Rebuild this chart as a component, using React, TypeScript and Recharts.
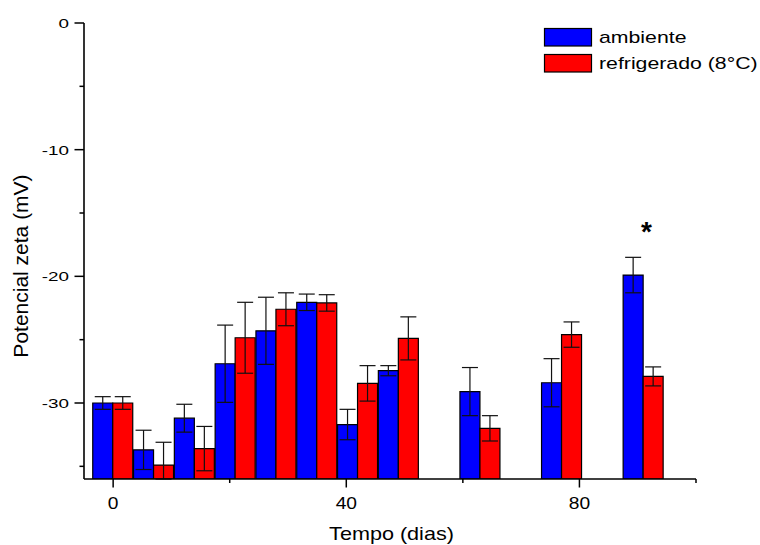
import React from 'react';
import { ComposedChart, Bar, XAxis, YAxis, ErrorBar, ReferenceDot, Legend } from 'recharts';

// ---- data ----
const days = [0, 7, 14, 21, 28, 35, 42, 49, 63, 77, 91];
const ambiente = [-30.0, -33.7, -31.2, -26.9, -24.3, -22.05, -31.7, -27.45, -29.1, -28.4, -19.9];
const ambienteErr = [0.5, 1.55, 1.1, 3.05, 2.65, 0.65, 1.2, 0.4, 1.9, 1.9, 1.4];
const refrigerado = [-30.0, -34.9, -33.6, -24.85, -22.6, -22.1, -28.45, -24.9, -32.0, -24.6, -27.9];
const refrigeradoErr = [0.5, 1.8, 1.75, 2.8, 1.3, 0.65, 1.4, 1.7, 1.0, 1.0, 0.75];
const xTicks = [0, 20, 40, 60, 80, 100];
const xLabeled = [0, 40, 80];
const yTicks = [0, -5, -10, -15, -20, -25, -30, -35];
const yLabeled = [0, -10, -20, -30];
const X_DOMAIN: [number, number] = [-5, 100];
const Y_MIN = -36;
const Y_MAX = 0;
const seriesNames = ['ambiente', 'refrigerado (8°C)'];
const starDay = 91;
const starValue = -16.2;

// error bars are clipped at the bottom of the axis, as in the original plot
const clipErr = (value: number, err: number) => [Math.min(err, value - Y_MIN), err];

const rows = days.map((d, i) => ({
  day: d,
  ambRange: [Y_MIN, ambiente[i]],
  ambErr: clipErr(ambiente[i], ambienteErr[i]),
  refrRange: [Y_MIN, refrigerado[i]],
  refrErr: clipErr(refrigerado[i], refrigeradoErr[i]),
}));

const FONT = '"Liberation Sans", Arial, Helvetica, sans-serif';
const BLUE = '#0000FF';
const RED = '#FF0000';

function sText(x: number, y: number, sx: number, anchor: string, size: number, content: any, weight = 'normal') {
  return (
    <text
      transform={`translate(${x},${y}) scale(${sx},1)`}
      textAnchor={anchor as any}
      fontSize={size}
      fontWeight={weight}
      fontFamily={FONT}
      fill="#000"
    >
      {content}
    </text>
  );
}

const renderXTick = (props: any) => {
  const x = Number(props.x);
  const y = Number(props.y);
  const v = props.payload.value;
  const major = xLabeled.includes(v);
  return (
    <g key={`xt-${v}`}>
      <line x1={x} x2={x} y1={y} y2={y + (major ? 8.5 : 4)} stroke="#000" strokeWidth={1.5} />
      {major ? sText(x, y + 29.5, 1.2, 'middle', 16, String(v)) : null}
    </g>
  );
};

const renderYTick = (props: any) => {
  const x = Number(props.x);
  const y = Number(props.y);
  const v = props.payload.value;
  const major = yLabeled.includes(v);
  return (
    <g key={`yt-${v}`}>
      <line x1={x - (major ? 9.5 : 4.5)} x2={x} y1={y} y2={y} stroke="#000" strokeWidth={1.5} />
      {major ? sText(x - 15, y + 5, 1.45, 'end', 13, String(v)) : null}
    </g>
  );
};

const renderLegend = () => (
  <svg width={216} height={50} style={{ display: 'block', overflow: 'visible' }}>
    <rect x={0.5} y={0.5} width={47} height={17.5} fill={BLUE} stroke="#000" strokeWidth={1.2} />
    {sText(55, 15.3, 1.33, 'start', 16, seriesNames[0])}
    <rect x={0.5} y={26.5} width={47} height={17.5} fill={RED} stroke="#000" strokeWidth={1.2} />
    {sText(55, 41.3, 1.33, 'start', 16, seriesNames[1])}
  </svg>
);

const renderStar = (props: any) => {
  const vb = props.viewBox || {};
  const cx = (vb.x || 0) + (vb.width || 0) / 2;
  const cy = (vb.y || 0) + (vb.height || 0) / 2;
  return sText(cx + 3, cy + 13, 1, 'middle', 28, '*', 'bold');
};

export default function App() {
  return (
    <div style={{ position: 'absolute', left: 0, top: 0, width: 760, height: 545, background: '#fff' }}>
      <ComposedChart
        width={760}
        height={545}
        data={rows}
        margin={{ top: 23, right: 64, bottom: 0, left: 0 }}
        barGap={0}
        barSize={20}
      >
        <XAxis
          dataKey="day"
          type="number"
          domain={X_DOMAIN}
          ticks={xTicks}
          interval={0}
          height={66}
          tickSize={0}
          tickMargin={0}
          tick={renderXTick}
          axisLine={{ stroke: '#000', strokeWidth: 1.6 }}
          tickLine={false}
          allowDataOverflow
        />
        <YAxis
          type="number"
          domain={[Y_MIN, Y_MAX]}
          ticks={yTicks}
          interval={0}
          width={84}
          tickSize={0}
          tickMargin={0}
          tick={renderYTick}
          axisLine={{ stroke: '#000', strokeWidth: 1.6 }}
          tickLine={false}
          allowDataOverflow
        />
        <Legend
          layout="vertical"
          align="center"
          verticalAlign="middle"
          content={renderLegend}
          wrapperStyle={{ position: 'absolute', left: 544, top: 28, width: 216, height: 50 }}
        />
        <Bar dataKey="ambRange" name={seriesNames[0]} fill={BLUE} stroke="#000" strokeWidth={1.2} isAnimationActive={false}>
          <ErrorBar dataKey="ambErr" width={8} stroke="#111" strokeWidth={1.2} direction="y" />
        </Bar>
        <Bar dataKey="refrRange" name={seriesNames[1]} fill={RED} stroke="#000" strokeWidth={1.2} isAnimationActive={false}>
          <ErrorBar dataKey="refrErr" width={8} stroke="#111" strokeWidth={1.2} direction="y" />
        </Bar>
        <ReferenceDot x={starDay} y={starValue} r={1} fill="none" stroke="none" label={renderStar} />
        <text
          transform="translate(391.5,539.5) scale(1.2,1)"
          textAnchor="middle"
          fontSize={18}
          fontFamily={FONT}
          fill="#000"
        >
          Tempo (dias)
        </text>
        <text
          transform="translate(28,266) rotate(-90)"
          textAnchor="middle"
          fontSize={21}
          fontFamily={FONT}
          fill="#000"
        >
          Potencial zeta (mV)
        </text>
      </ComposedChart>
    </div>
  );
}
